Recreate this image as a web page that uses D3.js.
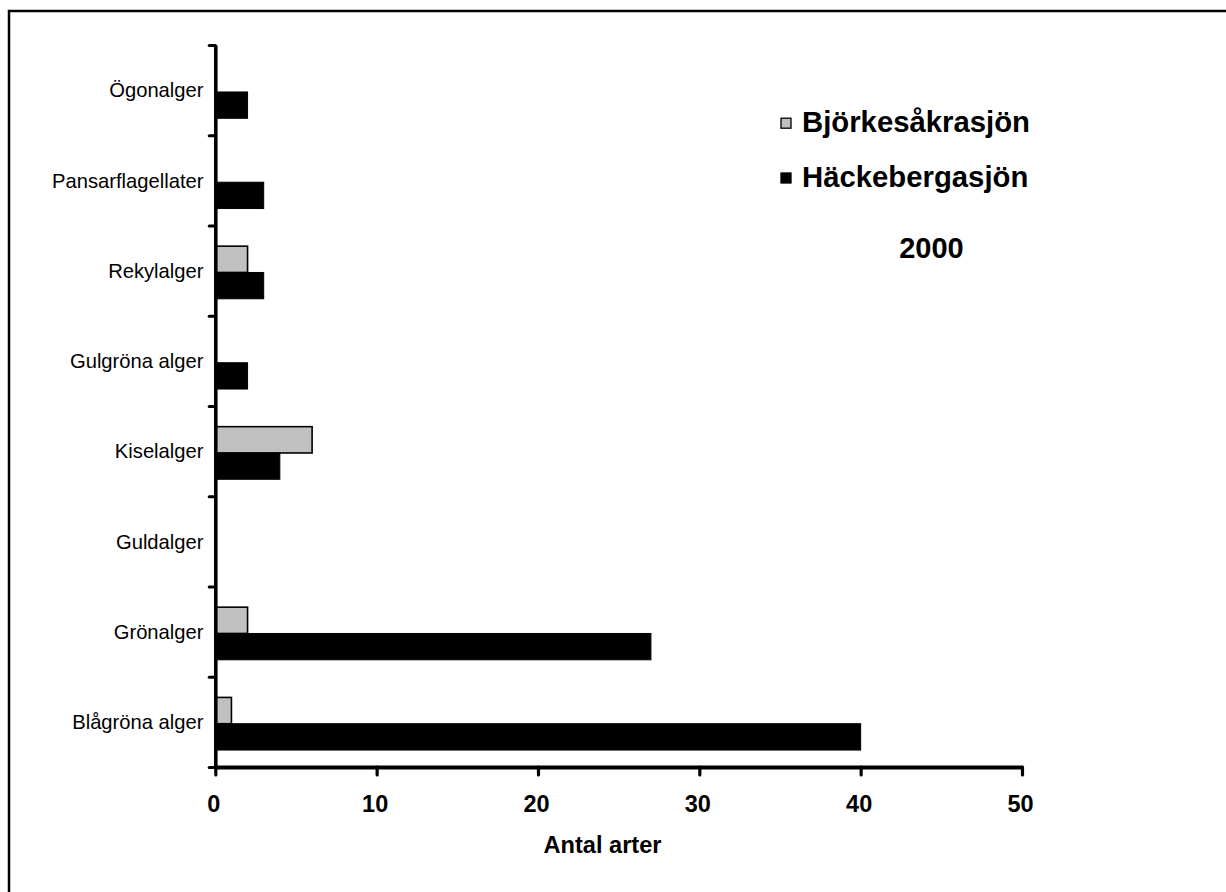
<!DOCTYPE html>
<html>
<head>
<meta charset="utf-8">
<script src="https://cdn.jsdelivr.net/npm/d3@7"></script>
<style>
  html, body { margin: 0; padding: 0; background: #fff; }
  svg { display: block; }
  text { font-family: Arial, "Liberation Sans", sans-serif; fill: #000; }
</style>
</head>
<body>
<div id="chart"></div>
<script>
// Algal groups, listed top to bottom as they appear on the chart
const categories = ["Ögonalger", "Pansarflagellater", "Rekylalger", "Gulgröna alger",
                    "Kiselalger", "Guldalger", "Grönalger", "Blågröna alger"];
const seriesNames = ["Björkesåkrasjön", "Häckebergasjön"];
// Number of species per group for each lake (year 2000)
const bjorkesakrasjon = [0, 0, 2, 0, 6, 0, 2, 1];
const hackebergasjon  = [2, 3, 3, 2, 4, 0, 27, 40];
const xTicks = [0, 10, 20, 30, 40, 50];
const xTitle = "Antal arter";
const yearLabel = "2000";

const seriesValues = [bjorkesakrasjon, hackebergasjon];
const seriesFill = ["#c0c0c0", "#000000"];

const W = 1226, H = 892;
const svg = d3.select("#chart").append("svg")
  .attr("width", W).attr("height", H);

// outer frame (runs past the right and bottom edges)
svg.append("rect")
  .attr("x", 9).attr("y", 11)
  .attr("width", W + 20).attr("height", H + 20)
  .attr("fill", "none").attr("stroke", "#000").attr("stroke-width", 2.5);

const plot = { left: 215.3, right: 1022, top: 45, bottom: 767 };

const x = d3.scaleLinear().domain([0, 50]).range([plot.left, plot.right]);
const y = d3.scaleBand().domain(categories).range([plot.top, plot.bottom]).padding(0);
const bw = y.bandwidth();
const ySub = d3.scaleBand().domain(seriesNames)
  .range([bw * 0.229, bw * 0.812]).padding(0);

// bars
const rows = categories.map((c, i) => ({
  cat: c,
  vals: seriesNames.map((s, j) => ({ s, j, v: seriesValues[j][i] }))
}));

const groups = svg.append("g").selectAll("g").data(rows).join("g")
  .attr("transform", d => `translate(0,${y(d.cat)})`);

groups.selectAll("rect").data(d => d.vals.filter(e => e.v > 0)).join("rect")
  .attr("x", x(0))
  .attr("y", e => ySub(e.s))
  .attr("width", e => x(e.v) - x(0))
  .attr("height", ySub.bandwidth())
  .attr("fill", e => seriesFill[e.j])
  .attr("stroke", "#000")
  .attr("stroke-width", e => e.j === 0 ? 1.6 : 1);

// y axis: tick marks on category boundaries
const yBound = d3.scaleLinear().domain([0, categories.length]).range([plot.top, plot.bottom]);
const yAxis = svg.append("g")
  .attr("transform", `translate(${plot.left},0)`)
  .call(d3.axisLeft(yBound).tickValues(d3.range(categories.length + 1))
        .tickFormat("").tickSize(6).tickSizeOuter(0));
yAxis.select(".domain").attr("stroke-width", 3.6);
yAxis.selectAll(".tick line").attr("stroke-width", 3.2).attr("stroke-linecap", "round");

// category labels
svg.append("g").selectAll("text").data(categories).join("text")
  .attr("x", 203.5)
  .attr("y", d => y(d) + bw / 2)
  .attr("dy", "0.36em")
  .attr("text-anchor", "end")
  .attr("font-size", 20.2)
  .text(d => d);

// x axis
const xAxis = svg.append("g")
  .attr("transform", `translate(0,${plot.bottom})`)
  .call(d3.axisBottom(x).tickValues(xTicks).tickFormat("").tickSize(8).tickSizeOuter(0));
xAxis.select(".domain").attr("stroke-width", 3.8);
xAxis.selectAll(".tick line").attr("stroke-width", 3.2).attr("stroke-linecap", "round");

svg.append("g").selectAll("text").data(xTicks).join("text")
  .attr("x", d => x(d) - 1.5)
  .attr("y", 811.5)
  .attr("text-anchor", "middle")
  .attr("font-size", 23.5)
  .attr("font-weight", "bold")
  .text(d => d);

svg.append("text")
  .attr("x", 602.5).attr("y", 852.5)
  .attr("text-anchor", "middle")
  .attr("font-size", 23.6)
  .attr("font-weight", "bold")
  .text(xTitle);

// legend
const legend = svg.append("g");
const legendRows = seriesNames.map((s, j) => ({ s, j }));
const legendY = [131.7, 186.5];
legend.selectAll("rect").data(legendRows).join("rect")
  .attr("x", 781).attr("y", d => legendY[d.j] - 13.5)
  .attr("width", 10).attr("height", 10)
  .attr("fill", d => seriesFill[d.j])
  .attr("stroke", "#000").attr("stroke-width", 1.3);
legend.selectAll("text").data(legendRows).join("text")
  .attr("x", 802).attr("y", d => legendY[d.j])
  .attr("font-size", 29.3)
  .attr("font-weight", "bold")
  .text(d => d.s);

svg.append("text")
  .attr("x", 931.5).attr("y", 258.3)
  .attr("text-anchor", "middle")
  .attr("font-size", 29)
  .attr("font-weight", "bold")
  .text(yearLabel);
</script>
</body>
</html>
